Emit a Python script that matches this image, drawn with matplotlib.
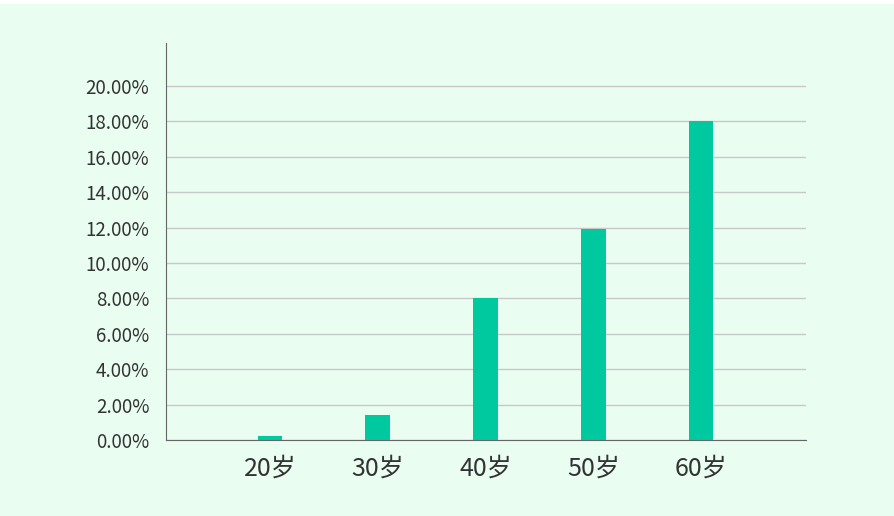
import matplotlib.pyplot as plt
from matplotlib.patches import Rectangle
from matplotlib.ticker import FuncFormatter

plt.rcParams['font.family'] = ['Noto Sans CJK SC', 'DejaVu Sans']

ages = ['20岁', '30岁', '40岁', '50岁', '60岁']
rates = [0.2, 1.4, 8.0, 11.9, 18.0]
yticks = [0, 2, 4, 6, 8, 10, 12, 14, 16, 18, 20]

bg = '#e9fdf1'
fig = plt.figure(figsize=(8.95, 5.16), dpi=100, facecolor='white')
fig.patches.append(Rectangle((0, 0), 1, 1 - 4 / 516, transform=fig.transFigure,
                             facecolor=bg, edgecolor='none', zorder=-10))

ax = fig.add_axes([166 / 895, 76 / 516, 640 / 895, 397 / 516])
ax.set_facecolor(bg)
ax.patch.set_alpha(0)

x = range(len(ages))
ax.bar(x, rates, width=0.23, color='#00c9a0', zorder=3)

ax.set_xlim(-0.965, 4.975)
ax.set_ylim(0, 22.43)
ax.set_yticks(yticks)
ax.yaxis.set_major_formatter(FuncFormatter(lambda v, p: f'{v:.2f}%'))
ax.set_xticks(list(x))
ax.set_xticklabels(ages)

ax.grid(axis='y', color='#c8c8c8', linewidth=1, zorder=0)
ax.set_axisbelow(True)
for s in ['top', 'right']:
    ax.spines[s].set_visible(False)
ax.spines['left'].set_color('#666666')
ax.spines['bottom'].set_color('#666666')
ax.tick_params(axis='y', length=0, pad=12, labelsize=13.5, labelcolor='#333333')
ax.tick_params(axis='x', length=0, pad=11, labelsize=18, labelcolor='#333333')

fig.savefig('out.png', dpi=100, facecolor=fig.get_facecolor())
